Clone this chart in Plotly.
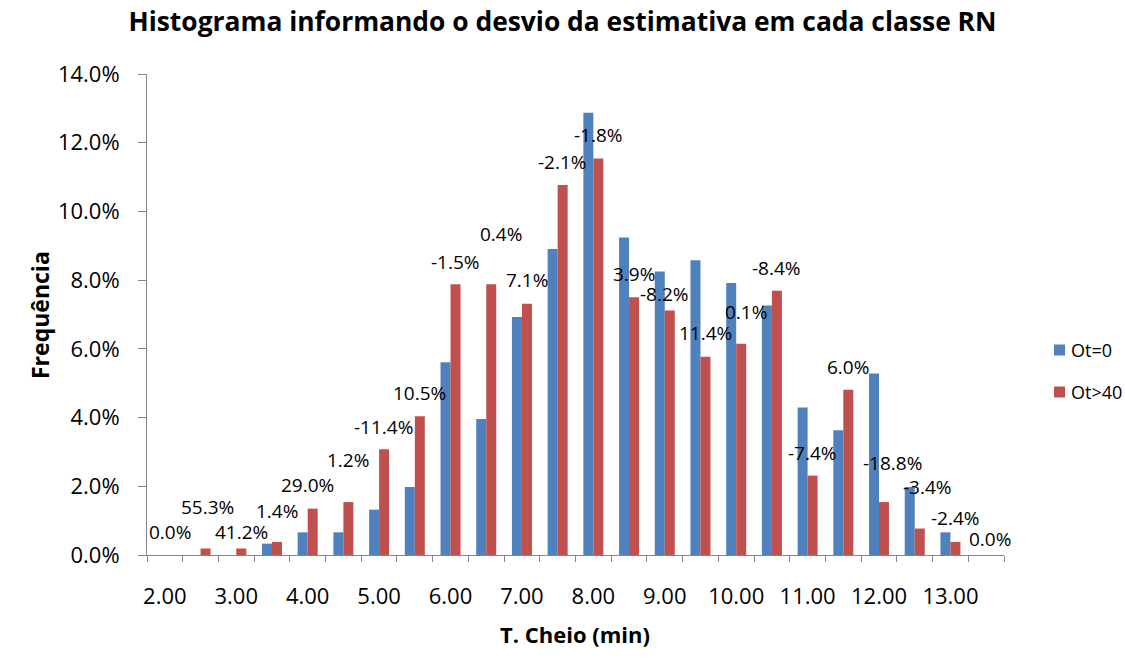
import plotly.graph_objects as go

# Classes of filling time (min)
classes = ["2.00", "2.50", "3.00", "3.50", "4.00", "4.50", "5.00", "5.50",
           "6.00", "6.50", "7.00", "7.50", "8.00", "8.50", "9.00", "9.50",
           "10.00", "10.50", "11.00", "11.50", "12.00", "12.50", "13.00", "13.50"]

# Relative frequency per class (%)
freq_ot0 = [0.00, 0.00, 0.00, 0.33, 0.66, 0.66, 1.32, 1.98, 5.61, 3.96, 6.93, 8.91,
            12.87, 9.24, 8.25, 8.58, 7.92, 7.26, 4.29, 3.63, 5.28, 1.98, 0.66, 0.00]
freq_ot40 = [0.00, 0.19, 0.19, 0.38, 1.35, 1.54, 3.08, 4.04, 7.88, 7.88, 7.31, 10.77,
             11.54, 7.50, 7.12, 5.77, 6.15, 7.69, 2.31, 4.81, 1.54, 0.77, 0.38, 0.00]

# Estimate deviation per class
desvio = ["0.0%", "55.3%", "41.2%", "1.4%", "29.0%", "1.2%", "-11.4%", "10.5%",
          "-1.5%", "0.4%", "7.1%", "-2.1%", "-1.8%", "3.9%", "-8.2%", "11.4%",
          "0.1%", "-8.4%", "-7.4%", "6.0%", "-18.8%", "-3.4%", "-2.4%", "0.0%"]

series_names = ["Ot=0", "Ot>40"]
series_colors = ["#4F81BD", "#C0504D"]

# Placement of the deviation labels (height in axis units, horizontal shift in px)
label_y = [0.68, 1.41, 0.68, 1.29, 2.04, 2.76, 3.73, 4.71, 8.54, 9.34, 8.00, 11.43,
           12.22, 8.17, 7.59, 6.45, 7.08, 8.36, 2.98, 5.48, 2.69, 1.99, 1.07, 0.46]
label_dx = [5, 7, 5, 5, 0, 5, 4, 5, 5, 15, 5, 5, 5, 5, 0, 5, 10, 5, 5, 5, 13, 13, 5, 4]

FONT = "'Open Sans', sans-serif"
AXIS_GREY = "#868686"
W, H = 1125, 664
ML, MR, MT, MB = 147, 121, 74, 109
PW, PH = W - ML - MR, H - MT - MB
idx = list(range(len(classes)))


def px_x(x):
    """Horizontal pixel -> paper coordinate."""
    return (x - ML) / PW


def px_y(y):
    """Vertical pixel (from top) -> paper coordinate."""
    return (H - MB - y) / PH


fig = go.Figure()
for vals, name, color in zip([freq_ot0, freq_ot40], series_names, series_colors):
    fig.add_trace(go.Bar(x=idx, y=vals, name=name, marker_color=color,
                         marker_line_width=0, showlegend=False))

for i, (txt, yy, dx) in enumerate(zip(desvio, label_y, label_dx)):
    fig.add_annotation(x=i, y=yy, xref="x", yref="y", text=txt, showarrow=False,
                       xshift=dx, font=dict(family=FONT, size=19, color="#000000"))

# Legend: colour squares with series names on the right
for k, (name, color) in enumerate(zip(series_names, series_colors)):
    cy = 350 + 42 * k
    fig.add_shape(type="rect", xref="paper", yref="paper",
                  x0=px_x(1054), x1=px_x(1065), y0=px_y(cy + 5.5), y1=px_y(cy - 5.5),
                  fillcolor=color, line_width=0)
    fig.add_annotation(x=px_x(1069), y=px_y(cy), xref="paper", yref="paper",
                       text=name, showarrow=False, xanchor="left", yanchor="middle",
                       font=dict(family=FONT, size=18, color="#000000"))

# Axis titles
fig.add_annotation(x=px_x(22), y=px_y(315), xref="paper", yref="paper",
                   text="<b>Frequência</b>", textangle=-90, showarrow=False,
                   font=dict(family=FONT, size=23, color="#000000"))
fig.add_annotation(x=px_x(575), y=px_y(651), xref="paper", yref="paper",
                   text="<b>T. Cheio (min)</b>", showarrow=False,
                   font=dict(family=FONT, size=22, color="#000000"))

fig.update_layout(
    width=W, height=H,
    margin=dict(l=ML, r=MR, t=MT, b=MB, autoexpand=False),
    paper_bgcolor="white", plot_bgcolor="white",
    barmode="group", bargap=0.44, bargroupgap=0,
    showlegend=False,
    title=dict(text="<b>Histograma informando o desvio da estimativa em cada classe RN</b>",
               x=0.5, xref="container", y=1 - 22 / H, yref="container",
               xanchor="center", yanchor="middle",
               font=dict(family=FONT, size=26.4, color="#000000")),
    font=dict(family=FONT, color="#000000"),
    xaxis=dict(range=[-0.5, len(classes) - 0.5],
               tickmode="array", tickvals=idx[::2], ticktext=classes[::2],
               ticks="", showgrid=False, zeroline=False,
               showline=True, linecolor=AXIS_GREY, linewidth=1,
               ticklabelstandoff=22,
               tickfont=dict(family=FONT, size=22, color="#000000"),
               minor=dict(tickmode="array",
                          tickvals=[i - 0.5 for i in range(len(classes) + 1)],
                          ticks="outside", ticklen=6, tickcolor=AXIS_GREY, tickwidth=1)),
    yaxis=dict(range=[0, 14], dtick=2, tickformat=".1f", ticksuffix="%",
               ticks="outside", ticklen=8, tickcolor=AXIS_GREY, tickwidth=1,
               showgrid=False, zeroline=False,
               showline=True, linecolor=AXIS_GREY, linewidth=1,
               ticklabelstandoff=14,
               tickfont=dict(family=FONT, size=22, color="#000000")),
)

fig.write_html("out.html")
